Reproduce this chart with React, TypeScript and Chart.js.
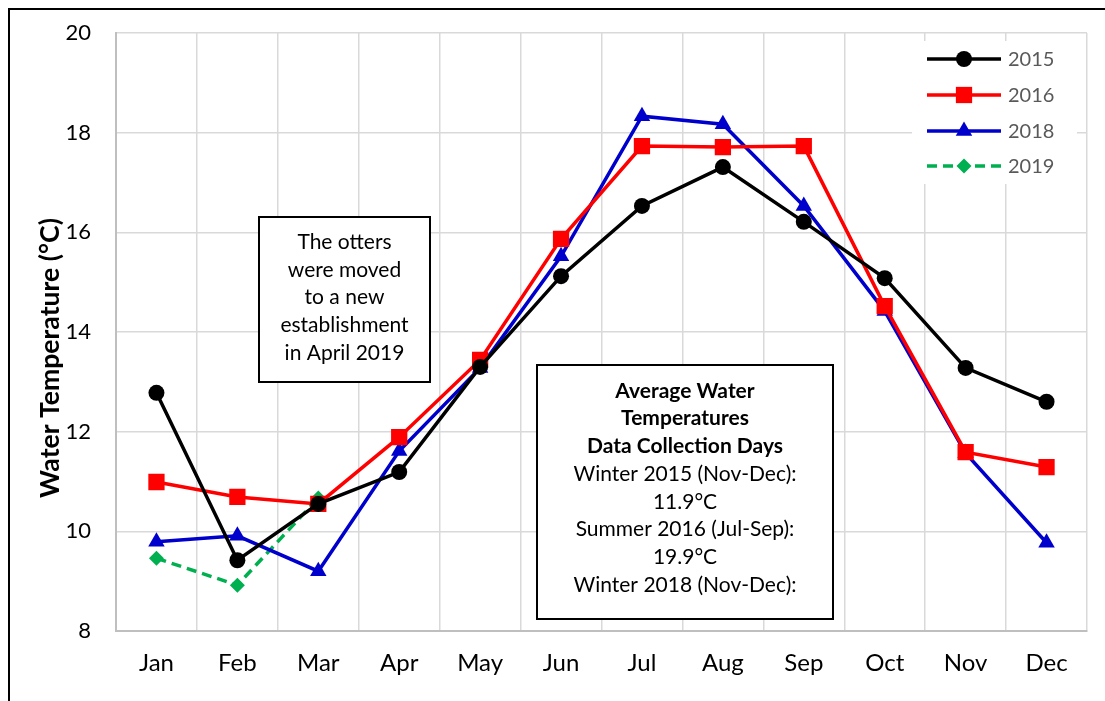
import React, { useEffect, useRef } from "react";
import { Chart, registerables } from "chart.js";

Chart.register(...registerables);

const months = ["Jan", "Feb", "Mar", "Apr", "May", "Jun", "Jul", "Aug", "Sep", "Oct", "Nov", "Dec"];
const y2015 = [12.78, 9.42, 10.55, 11.19, 13.3, 15.12, 16.53, 17.31, 16.21, 15.08, 13.28, 12.6];
const y2016 = [10.99, 10.69, 10.55, 11.89, 13.44, 15.87, 17.73, 17.71, 17.73, 14.52, 11.59, 11.29];
const y2018 = [9.79, 9.91, 9.2, 11.61, 13.28, 15.52, 18.33, 18.17, 16.53, 14.42, 11.57, 9.77];
const y2019 = [9.46, 8.92, 10.67, null, null, null, null, null, null, null, null, null];

const seriesNames = ["2015", "2016", "2018", "2019"];
const seriesColors = ["#000000", "#ff0000", "#0000cc", "#00b050"];

const yTitle = "Water Temperature (°C)";
const note1 = ["The otters", "were moved", "to a new", "establishment", "in April 2019"];
const note2Bold = ["Average Water", "Temperatures", "Data Collection Days"];
const note2 = ["Winter 2015 (Nov-Dec):", "11.9°C", "Summer 2016 (Jul-Sep):", "19.9°C", "Winter 2018 (Nov-Dec):"];

const FONT = "Lato, 'Open Sans', sans-serif";

const overlayPlugin = {
  id: "overlay",
  afterDraw(chart: any) {
    const ctx = chart.ctx;
    ctx.save();
    // outer frame
    ctx.strokeStyle = "#000";
    ctx.lineWidth = 2;
    ctx.beginPath();
    ctx.moveTo(9, 701);
    ctx.lineTo(9, 9);
    ctx.lineTo(1105, 9);
    ctx.stroke();

    // y axis title
    ctx.save();
    ctx.font = `bold 26px ${FONT}`;
    const w = ctx.measureText(yTitle).width;
    const size = 26 * 280 / w;
    ctx.font = `bold ${size.toFixed(1)}px ${FONT}`;
    ctx.translate(50, 358);
    ctx.rotate(-Math.PI / 2);
    ctx.fillStyle = "#000";
    ctx.textAlign = "center";
    ctx.textBaseline = "middle";
    ctx.fillText(yTitle, 0, 0);
    ctx.restore();

    // legend
    ctx.fillStyle = "#fff";
    ctx.fillRect(912, 41, 165, 143);
    const rowsY = [59, 95, 131, 166];
    chart.data.datasets.forEach((ds: any, i: number) => {
      const y = rowsY[i];
      ctx.strokeStyle = ds.borderColor;
      ctx.lineWidth = 3.5;
      ctx.setLineDash(ds.borderDash || []);
      ctx.beginPath();
      ctx.moveTo(927, y);
      ctx.lineTo(1001, y);
      ctx.stroke();
      ctx.setLineDash([]);
      ctx.fillStyle = ds.borderColor;
      const cx = 964;
      const r = ds.pointRadius;
      ctx.beginPath();
      if (ds.pointStyle === "circle") {
        ctx.arc(cx, y, r, 0, Math.PI * 2);
      } else if (ds.pointStyle === "rect") {
        const s = r * Math.SQRT1_2;
        ctx.rect(cx - s, y - s, 2 * s, 2 * s);
      } else if (ds.pointStyle === "triangle") {
        ctx.moveTo(cx, y - r);
        ctx.lineTo(cx + Math.sin((2 * Math.PI) / 3) * r, y + r / 2);
        ctx.lineTo(cx - Math.sin((2 * Math.PI) / 3) * r, y + r / 2);
        ctx.closePath();
      } else {
        ctx.moveTo(cx, y - r);
        ctx.lineTo(cx + r, y);
        ctx.lineTo(cx, y + r);
        ctx.lineTo(cx - r, y);
        ctx.closePath();
      }
      ctx.fill();
      ctx.fillStyle = "#595959";
      ctx.font = `20px ${FONT}`;
      ctx.textAlign = "left";
      ctx.textBaseline = "middle";
      ctx.fillText(ds.label, 1008, y + 1);
    });

    // note 1
    ctx.fillStyle = "#fff";
    ctx.fillRect(259, 217, 171, 165);
    ctx.strokeStyle = "#000";
    ctx.lineWidth = 2;
    ctx.strokeRect(259, 217, 171, 165);
    ctx.fillStyle = "#000";
    ctx.font = `21px ${FONT}`;
    ctx.textAlign = "center";
    ctx.textBaseline = "middle";
    note1.forEach((t, i) => ctx.fillText(t, 344.5, 242 + i * 27.8));

    // note 2
    ctx.fillStyle = "#fff";
    ctx.fillRect(537, 365, 296, 254);
    ctx.strokeRect(537, 365, 296, 254);
    ctx.fillStyle = "#000";
    ctx.font = `bold 21px ${FONT}`;
    note2Bold.forEach((t, i) => ctx.fillText(t, 685, 391 + i * 27.7));
    ctx.font = `21px ${FONT}`;
    note2.forEach((t, i) => ctx.fillText(t, 685, 391 + (i + 3) * 27.7));
    ctx.restore();
  },
};

export default function App() {
  const ref = useRef<HTMLCanvasElement | null>(null);
  useEffect(() => {
    if (!ref.current) return;
    const all = [y2015, y2016, y2018, y2019];
    const styles = ["circle", "rect", "triangle", "rectRot"];
    const radii = [8, 11.5, 9.5, 7.5];
    const chart = new Chart(ref.current, {
      type: "line",
      data: {
        labels: months,
        datasets: all.map((d, i) => ({
          label: seriesNames[i],
          data: d,
          borderColor: seriesColors[i],
          backgroundColor: seriesColors[i],
          borderWidth: 3.5,
          borderDash: i === 3 ? [10, 6] : [],
          pointStyle: styles[i],
          pointRadius: radii[i],
          pointHoverRadius: radii[i],
          pointBorderWidth: 0,
          tension: 0,
          spanGaps: false,
        })),
      } as any,
      options: {
        responsive: false,
        animation: false,
        devicePixelRatio: 1,
        layout: { padding: { top: 33, right: 18, left: 0, bottom: 0 } },
        plugins: { legend: { display: false }, tooltip: { enabled: false } },
        scales: {
          x: {
            type: "category",
            offset: true,
            grid: { offset: true, color: "#d9d9d9", lineWidth: 1.5, drawTicks: false },
            border: { color: "#bfbfbf", width: 2 },
            ticks: { color: "#000", font: { family: FONT, size: 24 }, padding: 18 },
            afterFit: (s: any) => { s.height = 70; s.paddingLeft = 0; s.paddingRight = 0; },
          },
          y: {
            min: 8,
            max: 20,
            ticks: { stepSize: 2, color: "#000", font: { family: FONT, size: 22 }, padding: 25 },
            grid: { color: "#d9d9d9", lineWidth: 1.5, drawTicks: false },
            border: { color: "#bfbfbf", width: 2 },
            afterFit: (s: any) => { s.width = 116; s.paddingTop = 0; s.paddingBottom = 0; },
          },
        },
      } as any,
      plugins: [overlayPlugin],
    });
    return () => chart.destroy();
  }, []);
  return (
    <div style={{ position: "absolute", left: 0, top: 0, width: 1105, height: 701, background: "#fff" }}>
      <canvas ref={ref} width={1105} height={701} />
    </div>
  );
}
